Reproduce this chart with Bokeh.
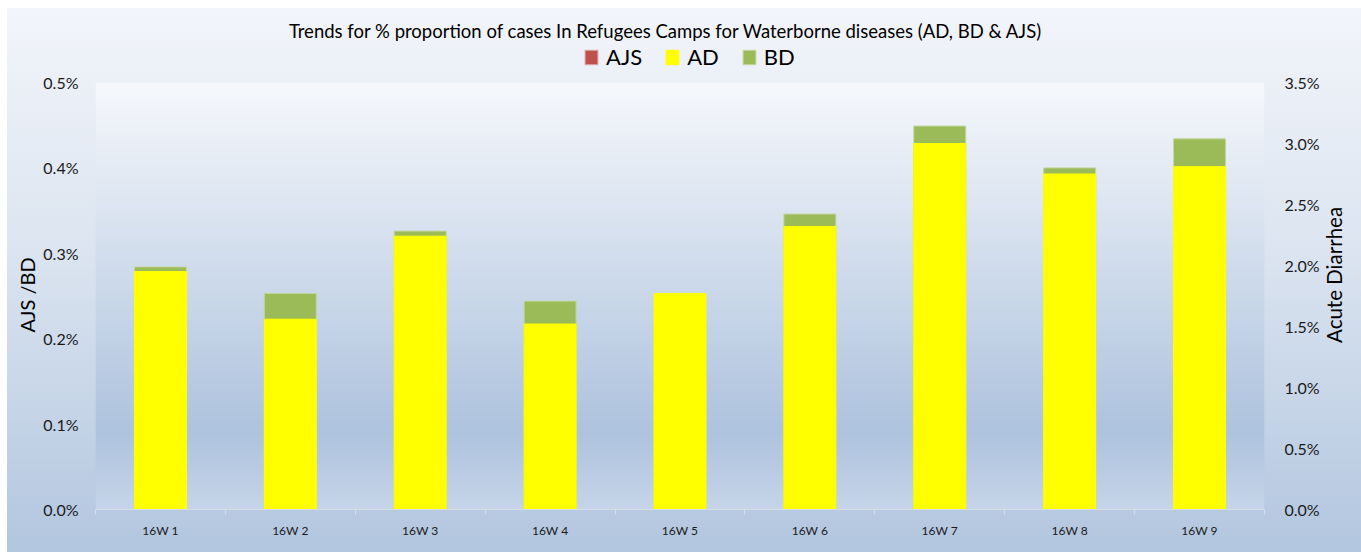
import math
import numpy as np
from bokeh.plotting import figure
from bokeh.models import (Range1d, LinearAxis, FixedTicker, PrintfTickFormatter,
                          Legend, LegendItem, Title, Label, ColumnDataSource)
from bokeh.embed import file_html
from bokeh.resources import INLINE

# ---------------- data (percent) ----------------
weeks = ["16W 1", "16W 2", "16W 3", "16W 4", "16W 5", "16W 6", "16W 7", "16W 8", "16W 9"]
ajs = [0.0, 0.0, 0.0, 0.0, 0.0, 0.0, 0.0, 0.0, 0.0]
bd = [0.284, 0.253, 0.326, 0.244, 0.22, 0.346, 0.449, 0.400, 0.434]
ad = [1.95, 1.56, 2.24, 1.52, 1.77, 2.32, 3.00, 2.75, 2.81]
left_ticks = [0.0, 0.1, 0.2, 0.3, 0.4, 0.5]
right_ticks = [0.0, 0.5, 1.0, 1.5, 2.0, 2.5, 3.0, 3.5]
left_max, right_max = 0.5, 3.5
title_text = "Trends for % proportion of cases In Refugees Camps for Waterborne diseases (AD, BD & AJS)"
right_title = "Acute Diarrhea"

FONT = "Lato"
FIG_W, FIG_H = 1354, 544
B_LEFT, B_RIGHT, B_BOTTOM = 88, 93, 43
PLOT_H = 427                      # height of the shaded plot area
FRAME_H = FIG_H - B_BOTTOM        # frame also covers title/legend band
ext = FRAME_H / PLOT_H
RIGHT_TITLE_START = 0.39          # fraction of plot-area height where the right title begins

xs = [i + 0.5 for i in range(len(weeks))]
src = ColumnDataSource(dict(x=xs, AJS=ajs, BD=bd, AD=ad))

p = figure(width=FIG_W, height=FIG_H, output_backend="svg", toolbar_location=None,
           x_range=Range1d(0, len(weeks)), y_range=Range1d(0, left_max * ext),
           min_border_left=B_LEFT, min_border_right=B_RIGHT, min_border_top=0,
           min_border_bottom=B_BOTTOM)
p.title.visible = False
p.extra_y_ranges = {"right": Range1d(0, right_max * ext)}
p.border_fill_color = None
p.background_fill_color = None
p.outline_line_color = None
p.styles = {"margin-left": "7px", "margin-top": "8px",
            "background": "linear-gradient(to bottom, #f2f5fa 0%, #dbe4f0 45%, #b2c6df 100%)"}
p.grid.visible = False

# plot-area gradient (background image)
n = PLOT_H
stops = [(0.0, (0xc6, 0xd5, 0xe9)), (0.18, (0xae, 0xc3, 0xde)), (1.0, (0xf6, 0xf8, 0xfc))]
img = np.zeros((n, 1), dtype=np.uint32)
view = img.view(dtype=np.uint8).reshape((n, 1, 4))
for r in range(n):
    f = r / (n - 1)
    for (f0, c0), (f1, c1) in zip(stops[:-1], stops[1:]):
        if f0 <= f <= f1:
            t = (f - f0) / (f1 - f0)
            col = [int(c0[k] + (c1[k] - c0[k]) * t) for k in range(3)]
            break
    view[r, 0, 0], view[r, 0, 1], view[r, 0, 2], view[r, 0, 3] = col[0], col[1], col[2], 255
p.image_rgba(image=[img], x=0, y=0, dw=len(weeks), dh=left_max)

# bars: AJS/BD on primary axis, AD on secondary axis drawn in front
stack = p.vbar_stack(["AJS", "BD"], x="x", width=0.4, source=src,
                     fill_color=["#C0504D", "#9BBB59"], line_color=["#d9a3a2", "#c3d69b"], line_width=1)
r_ad = p.vbar(x="x", top="AD", width=0.4, source=src, y_range_name="right",
              fill_color="#FFFF00", line_color="#FFFF00")

# axes
xa = p.xaxis[0]
xa.ticker = FixedTicker(ticks=xs, minor_ticks=list(range(len(weeks) + 1)))
xa.major_label_overrides = {x: w for x, w in zip(xs, weeks)}
xa.major_tick_line_color = None
xa.major_tick_in = 0
xa.major_tick_out = 5
xa.minor_tick_line_color = "#d6dde8"
xa.minor_tick_in = 0
xa.minor_tick_out = 5
xa.axis_line_color = "#d6dde8"
xa.major_label_text_font = FONT
xa.major_label_text_font_size = "12px"
xa.major_label_text_color = "#1a1a1a"
xa.major_label_standoff = 8


def style_y(ax, standoff):
    ax.axis_line_color = None
    ax.major_tick_line_color = None
    ax.major_tick_in = 0
    ax.major_tick_out = 0
    ax.minor_tick_line_color = None
    ax.minor_tick_out = 0
    ax.major_label_text_font = FONT
    ax.major_label_text_font_size = "16px"
    ax.major_label_text_color = "#1a1a1a"
    ax.major_label_standoff = standoff


ya = p.yaxis[0]
ya.ticker = FixedTicker(ticks=left_ticks)
ya.formatter = PrintfTickFormatter(format="%.1f%%")
style_y(ya, 17)

ra = LinearAxis(y_range_name="right", ticker=FixedTicker(ticks=right_ticks),
                formatter=PrintfTickFormatter(format="%.1f%%"))
style_y(ra, 20)
p.add_layout(ra, "right")

# right axis title, reading bottom to top, starting low in the plot area
t_pos = right_max * RIGHT_TITLE_START
ra2 = LinearAxis(y_range_name="right", ticker=FixedTicker(ticks=[t_pos]))
style_y(ra2, 12)
ra2.major_label_overrides = {t_pos: right_title}
ra2.major_label_orientation = math.pi / 2
ra2.major_label_text_font_size = "20.5px"
ra2.major_label_text_color = "#000000"
p.add_layout(ra2, "right")

# left axis title (reads bottom to top), placed at the plot-area middle
p.add_layout(Title(text="AJS /BD", align="left", offset=177, standoff=4,
                   text_font=FONT, text_font_size="20px", text_font_style="normal",
                   text_color="#000000"), "left")

# chart title and legend inside the (extended) frame
p.add_layout(Label(x=len(weeks) / 2, y=left_max, x_offset=-14, y_offset=52, text=title_text,
                   text_align="center", text_baseline="middle", text_font=FONT,
                   text_font_size="18.5px", text_color="#000000"))

legend = Legend(items=[LegendItem(label="AJS", renderers=[stack[0]]),
                       LegendItem(label="AD", renderers=[r_ad]),
                       LegendItem(label="BD", renderers=[stack[1]])],
                orientation="horizontal", location=(488, 439),
                glyph_width=16, glyph_height=18, label_standoff=7, spacing=22,
                padding=0, margin=0, border_line_color=None, background_fill_alpha=0,
                label_text_font=FONT, label_text_font_size="22px", label_text_color="#000000")
p.add_layout(legend, "center")

open("out.html", "w").write(file_html(p, INLINE))
